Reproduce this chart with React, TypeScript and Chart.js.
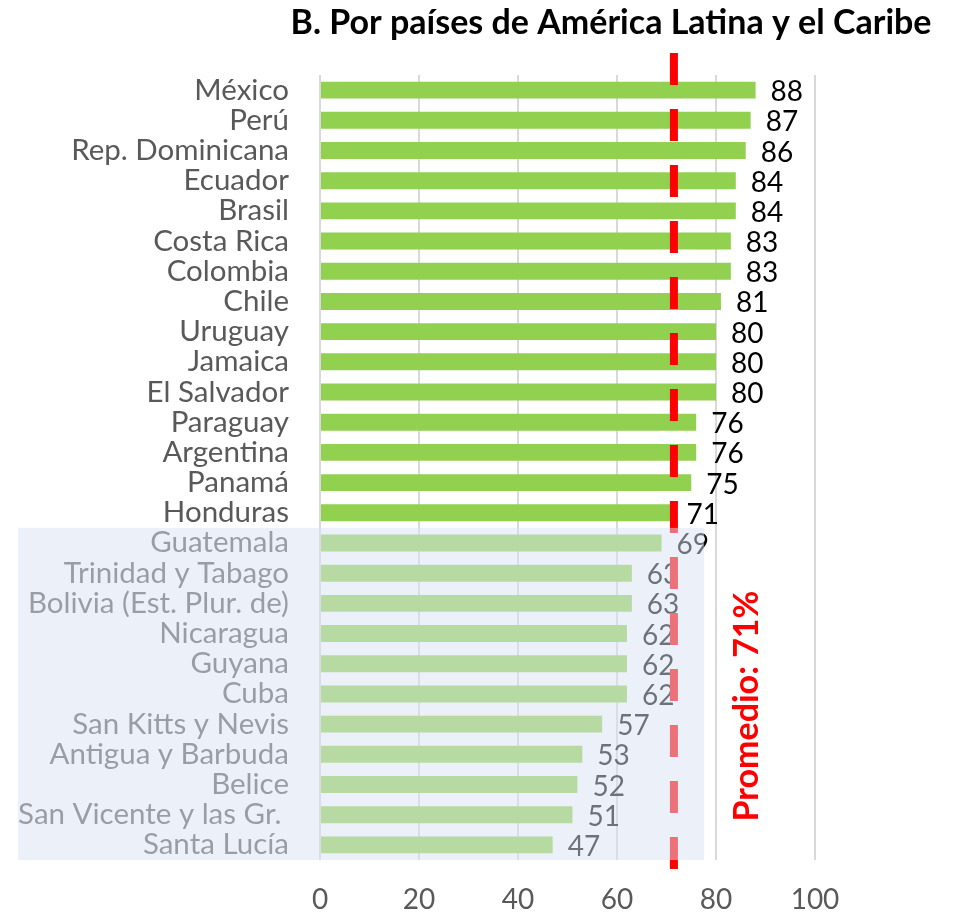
import React, { useEffect, useRef } from 'react';
import { Chart, registerables } from 'chart.js';

Chart.register(...registerables);

const TITLE = 'B. Por países de América Latina y el Caribe';
const CATEGORIES = [
  'México', 'Perú', 'Rep. Dominicana', 'Ecuador', 'Brasil', 'Costa Rica', 'Colombia', 'Chile',
  'Uruguay', 'Jamaica', 'El Salvador', 'Paraguay', 'Argentina', 'Panamá', 'Honduras',
  'Guatemala', 'Trinidad y Tabago', 'Bolivia (Est. Plur. de)', 'Nicaragua', 'Guyana', 'Cuba',
  'San Kitts y Nevis', 'Antigua y Barbuda', 'Belice', 'San Vicente y las Gr. ', 'Santa Lucía',
];
const VALUES = [88, 87, 86, 84, 84, 83, 83, 81, 80, 80, 80, 76, 76, 75, 71, 69, 63, 63, 62, 62, 62, 57, 53, 52, 51, 47];
const X_TICKS = [0, 20, 40, 60, 80, 100];
const AVERAGE_LINE = 71.5;
const AVERAGE_LABEL = 'Promedio: 71%';
const HIGHLIGHT_COUNT = 15;
const OVERLAY_END = 77.6;

const FONT = 'Lato, "Open Sans", sans-serif';

const customPlugin = {
  id: 'customDecor',
  afterDatasetsDraw(chart: any) {
    const ctx = chart.ctx;
    const meta = chart.getDatasetMeta(0);
    ctx.save();
    ctx.font = `28px ${FONT}`;
    ctx.textAlign = 'left';
    ctx.textBaseline = 'middle';
    ctx.fillStyle = '#000000';
    meta.data.forEach((bar: any, i: number) => {
      ctx.fillText(String(VALUES[i]), bar.x + 15, bar.y + 2);
    });
    ctx.restore();
  },
  afterDraw(chart: any) {
    const { ctx, chartArea } = chart;
    const x = chart.scales.x;
    const y = chart.scales.y;
    ctx.save();
    // average dashed line
    const lx = x.getPixelForValue(AVERAGE_LINE);
    ctx.strokeStyle = '#FF0000';
    ctx.lineWidth = 8;
    ctx.lineCap = 'butt';
    ctx.setLineDash([32, 24]);
    ctx.beginPath();
    ctx.moveTo(lx, chartArea.top - 22);
    ctx.lineTo(lx, chartArea.bottom + 9);
    ctx.stroke();
    ctx.setLineDash([]);
    // faded overlay
    const top = (y.getPixelForValue(HIGHLIGHT_COUNT - 1) + y.getPixelForValue(HIGHLIGHT_COUNT)) / 2;
    const right = x.getPixelForValue(OVERLAY_END);
    ctx.fillStyle = 'rgba(218,227,243,0.5)';
    ctx.fillRect(18, top, right - 18, chartArea.bottom - top);
    // average label (rotated)
    ctx.save();
    ctx.translate(758, 706);
    ctx.rotate(-Math.PI / 2);
    ctx.font = `bold 34px ${FONT}`;
    ctx.fillStyle = '#FF0000';
    ctx.textAlign = 'center';
    ctx.textBaseline = 'alphabetic';
    ctx.fillText(AVERAGE_LABEL, 0, 0);
    ctx.restore();
    // title
    ctx.font = `bold 34px ${FONT}`;
    ctx.fillStyle = '#000000';
    ctx.textAlign = 'center';
    ctx.textBaseline = 'alphabetic';
    ctx.fillText(TITLE, 611, 34);
    ctx.restore();
  },
};

export default function App() {
  const canvasRef = useRef<HTMLCanvasElement | null>(null);

  useEffect(() => {
    if (!canvasRef.current) return;
    const chart = new Chart(canvasRef.current, {
      type: 'bar',
      data: {
        labels: CATEGORIES,
        datasets: [
          {
            data: VALUES,
            backgroundColor: '#92D050',
            borderWidth: 0,
            barPercentage: 0.56,
            categoryPercentage: 1,
          },
        ],
      },
      options: {
        indexAxis: 'y',
        responsive: false,
        animation: false,
        layout: { padding: { left: 0, right: 149, top: 75, bottom: 0 } },
        plugins: {
          legend: { display: false },
          title: { display: false },
          tooltip: { enabled: false },
        },
        scales: {
          x: {
            type: 'linear',
            min: 0,
            max: 100,
            afterFit: (scale: any) => {
              scale.height = 55;
            },
            afterBuildTicks: (scale: any) => {
              scale.ticks = X_TICKS.map((v) => ({ value: v }));
            },
            grid: { color: '#D9D9D9', lineWidth: 2, drawTicks: false },
            border: { display: false },
            ticks: {
              padding: 23,
              color: '#595959',
              font: { family: FONT, size: 28 },
            },
          },
          y: {
            type: 'category',
            afterFit: (scale: any) => {
              scale.width = 320;
            },
            grid: { display: false, drawTicks: false },
            border: { display: false },
            ticks: {
              padding: 31,
              color: '#595959',
              autoSkip: false,
              font: { family: FONT, size: 29.5 },
            },
          },
        },
      },
      plugins: [customPlugin],
    } as any);
    return () => chart.destroy();
  }, []);

  return (
    <div style={{ position: 'absolute', left: 0, top: 0, width: 964, height: 915, background: '#ffffff' }}>
      <canvas ref={canvasRef} width={964} height={915} />
    </div>
  );
}
